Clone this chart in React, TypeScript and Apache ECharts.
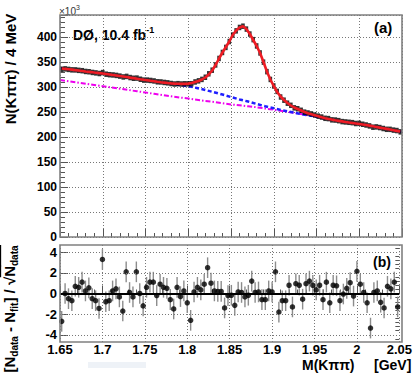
import React, { useEffect, useRef } from "react";
import * as echarts from "echarts";

const FONT = '"Liberation Sans", Arial, Helvetica, "DejaVu Sans", sans-serif';

// ---- binning (4 MeV bins from 1.65 to 2.05 GeV) ----
const massLow = 1.65;
const binWidth = 0.004;
const nBins = 100;
const binCenters = Array.from({ length: nBins }, (_, i) => +(massLow + binWidth * (i + 0.5)).toFixed(4));

// background curves sampled every 10 MeV
const curveMass = Array.from({ length: 41 }, (_, i) => +(1.65 + 0.01 * i).toFixed(3));

// total fit (x10^3 per 4 MeV), at bin centers
const fitValues = [
  337, 336.3, 335.5, 334.7, 333.8, 333, 332, 331, 330.2, 329.4,
  328.6, 327.8, 327, 326, 325, 324, 323, 322, 321, 320,
  318.8, 317.7, 316.6, 315.5, 314.5, 313.5, 312.5, 311.5, 310.5, 309.6,
  308.8, 308, 307.3, 306.8, 306.4, 306.2, 306.3, 306.8, 308, 310,
  312, 315, 319, 325, 333, 344, 357, 369, 380, 391,
  404, 413, 419, 421.5, 416, 406, 394, 382, 368, 350,
  331, 315, 302, 290, 281, 274, 268, 263, 259, 256,
  253, 250, 247.5, 245.5, 243.5, 241.5, 239.5, 237.7, 236.2, 234.8,
  233.5, 232.3, 231.2, 230.1, 229.1, 228.1, 227.1, 226.1, 225, 223.9,
  222.7, 221.4, 220.1, 218.8, 217.5, 216.2, 214.9, 213.6, 212.3, 211,
];

// data (x10^3 per 4 MeV)
const dataValues = [
  335.5, 336.3, 335.2, 334.3, 334.2, 333.3, 332.6, 331.1, 330.5, 329.1,
  328.2, 327.0, 328.8, 325.6, 324.6, 324.1, 323.2, 321.8, 320.1, 321.2,
  318.9, 317.5, 317.8, 315.5, 313.8, 313.8, 313.1, 312.1, 310.4, 310.1,
  309.1, 308.3, 307.0, 306.0, 306.7, 306.0, 306.4, 306.3, 306.6, 310.1,
  312.3, 315.2, 319.5, 326.4, 333.6, 344.1, 357.1, 369.1, 379.2, 390.9,
  403.9, 412.3, 419.1, 421.6, 415.8, 405.9, 394.7, 382.1, 368.1, 349.7,
  330.7, 315.1, 302.1, 291.2, 280.0, 273.6, 267.6, 263.4, 258.3, 256.5,
  253.4, 249.7, 248.0, 246.2, 243.9, 241.7, 239.9, 237.4, 236.8, 234.3,
  233.9, 232.7, 230.8, 230.1, 229.4, 228.7, 227.0, 227.3, 225.5, 224.0,
  222.2, 219.6, 220.2, 218.9, 217.0, 215.4, 215.3, 213.8, 212.9, 210.3,
];

// total background (blue dashed)
const bkgTotal = [
  337.5, 335.5, 333.5, 331, 329, 327, 324.5, 322, 319.5, 317, 314.5,
  311.5, 309, 306.5, 304, 301.5, 298, 294, 289.5, 285, 280,
  275, 271, 266, 261.5, 257.5, 253.5, 250, 246.5, 243.5, 240.5,
  237, 234.3, 231.1, 228.5, 226, 223.3, 220, 216.8, 213.5, 210.5,
];

// combinatorial background (magenta dash-dot)
const bkgComb = [
  314, 311.5, 309, 306.5, 304, 301.5, 299, 296.5, 294, 291.5, 289,
  286.5, 284, 281.5, 279, 277, 274.5, 272, 270, 267.5, 265,
  263.5, 261.5, 259.5, 257, 254.5, 252, 249.5, 246.5, 243.5, 240.5,
  237, 234.3, 231.1, 228.5, 226, 223.3, 220, 216.8, 213.5, 210.5,
];

// pulls (N_data - N_fit)/sqrt(N_data)
const residuals = [
  -2.7, 0.0, -0.5, -0.7, 0.7, 0.6, 1.1, 0.25, 0.55, -0.5,
  -0.7, -1.45, 3.3, -0.8, -0.7, 0.25, 0.45, -0.33, -1.7, 2.1,
  0.1, -0.33, 2.1, 0.0, -1.2, 0.6, 1.1, 1.1, -0.2, 0.9,
  0.6, 0.5, -0.6, -1.5, 0.6, -0.3, 0.25, -0.9, -2.6, 0.15,
  0.6, 0.35, 0.9, 2.5, 1.0, 0.25, 0.2, 0.2, -1.4, -0.2,
  -0.17, -1.15, 0.15, 0.1, -0.33, -0.17, 1.2, 0.1, 0.15, -0.6,
  -0.6, 0.25, 0.15, 2.1, -1.8, -0.7, -0.7, 0.8, -1.3, 0.95,
  0.8, -0.55, 0.95, 1.2, 0.8, 0.35, 0.8, -0.6, 1.1, -0.9,
  0.8, 0.75, -0.7, -0.05, 0.5, 1.05, -0.25, 2.15, 0.9, 0.1,
  -0.9, -3.35, 0.1, 0.25, -0.85, -1.4, 0.7, 0.45, 1.1, -1.3,
];
const residualError = 1;

const resTicks = [-4, -2, 0, 2, 4];
const resMinorTicks = [-4.4, -3.6, -3.2, -2.8, -2.4, -1.6, -1.2, -0.8, -0.4, 0.4, 0.8, 1.2, 1.6, 2.4, 2.8, 3.2, 3.6, 4.4];
const resGrid = [-4, -2, 2, 4];

// ---- text helpers ----
let _ctx: CanvasRenderingContext2D | null = null;
function measure(t: string, size: number, weight: string) {
  if (!_ctx) _ctx = document.createElement("canvas").getContext("2d");
  _ctx!.font = `${weight} ${size}px ${FONT}`;
  return _ctx!.measureText(t).width;
}
type Frag = { t: string; s: number; dy?: number; w?: string; over?: boolean };
function textLine(frags: Frag[], x: number, y: number, opts: { rotation?: number; anchor?: "left" | "center"; color?: string } = {}) {
  const widths = frags.map((f) => measure(f.t, f.s, f.w || "bold"));
  const total = widths.reduce((a, b) => a + b, 0);
  let cx = opts.anchor === "left" ? 0 : -total / 2;
  const children: any[] = [];
  frags.forEach((f, i) => {
    children.push({
      type: "text",
      x: cx,
      y: f.dy || 0,
      style: {
        text: f.t,
        font: `${f.w || "bold"} ${f.s}px ${FONT}`,
        fill: opts.color || "#000",
        align: "left",
        verticalAlign: "middle",
      },
    });
    if (f.over) {
      children.push({
        type: "line",
        shape: { x1: cx - 0.5, y1: -8.5, x2: cx + widths[i] + 0.5, y2: -8.5 },
        style: { stroke: "#000", lineWidth: 1.3 },
      });
    }
    cx += widths[i];
  });
  return { type: "group", x, y, rotation: opts.rotation || 0, children, z: 100 };
}

const tickColor = "#555";
const gridLineStyle = { color: "#777", type: [1, 2] as any, width: 1 };
const xFmt = (v: number) => String(Number(v.toFixed(2)));

export default function App() {
  const ref = useRef<HTMLDivElement>(null);
  useEffect(() => {
    if (!ref.current) return;
    const chart = echarts.init(ref.current, undefined, { renderer: "svg" });

    const dataPts = binCenters.map((m, i) => [m, dataValues[i]]);
    const fitPts = binCenters.map((m, i) => [m, fitValues[i]]);
    const bkgPts = curveMass.map((m, i) => [m, bkgTotal[i]]);
    const combPts = curveMass.map((m, i) => [m, bkgComb[i]]);
    const resPts = binCenters.map((m, i) => [m, residuals[i]]);

    const xAxisBase = {
      type: "value",
      min: 1.65,
      max: 2.05,
      interval: 0.05,
      axisLine: { show: false },
      axisTick: { show: true, inside: true, length: 8, lineStyle: { color: tickColor, width: 1 } },
      minorTick: { show: true, splitNumber: 5, length: 4, lineStyle: { color: tickColor, width: 1 } },
      splitLine: { show: true, lineStyle: gridLineStyle },
    };

    const option: any = {
      animation: false,
      grid: [
        { left: 60, top: 15, width: 342, height: 222 },
        { left: 60, top: 245, width: 342, height: 97 },
      ],
      xAxis: [
        { ...xAxisBase, gridIndex: 0, axisLabel: { show: false } },
        {
          ...xAxisBase,
          gridIndex: 1,
          axisLabel: { show: true, formatter: xFmt, fontSize: 13, lineHeight: 13, fontWeight: "bold", color: "#000", fontFamily: FONT, margin: 1 },
        },
      ],
      yAxis: [
        {
          gridIndex: 0,
          type: "value",
          min: 0,
          max: 444,
          interval: 50,
          axisLine: { show: false },
          axisTick: { show: true, inside: true, length: 8, lineStyle: { color: tickColor } },
          minorTick: { show: true, splitNumber: 5, length: 5, lineStyle: { color: tickColor } },
          axisLabel: { fontSize: 12, fontWeight: "bold", color: "#000", fontFamily: FONT, margin: 3, showMaxLabel: false },
          splitLine: { show: true, lineStyle: gridLineStyle },
        },
        {
          gridIndex: 1,
          type: "value",
          min: -4.7,
          max: 4.7,
          axisLine: { show: false },
          axisTick: { show: true, inside: true, length: 8, customValues: resTicks, lineStyle: { color: tickColor } },
          axisLabel: { customValues: resTicks, fontSize: 13, fontWeight: "bold", color: "#000", fontFamily: FONT, margin: 3 },
          splitLine: { show: false },
        },
        {
          gridIndex: 1,
          type: "value",
          min: -4.7,
          max: 4.7,
          axisLine: { show: false },
          axisTick: { show: true, inside: true, length: 4, customValues: resMinorTicks, lineStyle: { color: tickColor } },
          axisLabel: { show: false },
          splitLine: { show: false },
        },
      ],
      series: [
        {
          type: "line",
          xAxisIndex: 0,
          yAxisIndex: 0,
          data: combPts,
          symbol: "none",
          lineStyle: { color: "#ee00ee", width: 2, type: [5, 2, 1.5, 2] },
          z: 2,
        },
        {
          type: "line",
          xAxisIndex: 0,
          yAxisIndex: 0,
          data: bkgPts,
          symbol: "none",
          lineStyle: { color: "#1f1fff", width: 2.5, type: [4, 2.5] },
          z: 3,
        },
        {
          type: "scatter",
          xAxisIndex: 0,
          yAxisIndex: 0,
          data: dataPts,
          symbol: "rect",
          symbolSize: [3.6, 5.5],
          itemStyle: { color: "#000" },
          z: 4,
        },
        {
          type: "line",
          xAxisIndex: 0,
          yAxisIndex: 0,
          data: fitPts,
          symbol: "none",
          lineStyle: { color: "#ee1c24", width: 2.6 },
          z: 5,
        },
        {
          type: "custom",
          xAxisIndex: 1,
          yAxisIndex: 1,
          data: resPts,
          renderItem: (params: any, api: any) => {
            const x = api.value(0);
            const y = api.value(1);
            const p1 = api.coord([x, y - residualError]);
            const p2 = api.coord([x, y + residualError]);
            return {
              type: "line",
              shape: { x1: p1[0], y1: p1[1], x2: p2[0], y2: p2[1] },
              style: { stroke: "#8c8c8c", lineWidth: 1.4 },
            };
          },
          markLine: {
            silent: true,
            symbol: ["none", "none"],
            label: { show: false },
            data: [
              ...resGrid.map((v) => ({ yAxis: v, lineStyle: { ...gridLineStyle } })),
              { yAxis: 0, lineStyle: { color: "#000", width: 2.2, type: "solid" } },
            ],
          },
          z: 2,
        },
        {
          type: "scatter",
          xAxisIndex: 1,
          yAxisIndex: 1,
          data: resPts,
          symbol: "circle",
          symbolSize: 5.5,
          itemStyle: { color: "#000" },
          z: 4,
        },
      ],
      graphic: [
        { type: "rect", shape: { x: 60, y: 15, width: 342, height: 222 }, style: { fill: "none", stroke: "#808080", lineWidth: 1.6 }, z: 100 },
        { type: "rect", shape: { x: 60, y: 245, width: 342, height: 97 }, style: { fill: "none", stroke: "#808080", lineWidth: 1.6 }, z: 100 },
        { type: "rect", shape: { x: 88, y: 362, width: 58, height: 6 }, style: { fill: "#eef2f7" }, z: 0 },
        textLine([{ t: "×10", s: 10, w: "normal" }, { t: "3", s: 7, dy: -4, w: "normal" }], 59, 11, { anchor: "left", color: "#333" }),
        textLine([{ t: "DØ, 10.4 fb", s: 14 }, { t: "-1", s: 9, dy: -5 }], 73, 35, { anchor: "left" }),
        textLine([{ t: "(a)", s: 15 }], 374, 27, { anchor: "left" }),
        textLine([{ t: "(b)", s: 14 }], 373, 262, { anchor: "left" }),
        textLine([{ t: "N(Kππ) / 4 MeV", s: 15 }], 10.5, 69, { rotation: Math.PI / 2 }),
        textLine(
          [
            { t: "[N", s: 15 },
            { t: "data", s: 10, dy: 5 },
            { t: " - N", s: 15 },
            { t: "fit", s: 10, dy: 5 },
            { t: "] / ", s: 15 },
            { t: "√", s: 15 },
            { t: "N", s: 15, over: true },
            { t: "data", s: 10, dy: 5, over: true },
          ],
          9,
          309,
          { rotation: Math.PI / 2 }
        ),
        textLine([{ t: "M(Kππ)", s: 14 }], 302, 365, { anchor: "left" }),
        textLine([{ t: "[GeV]", s: 14 }], 374, 365, { anchor: "left" }),
      ],
    };

    chart.setOption(option);
    return () => chart.dispose();
  }, []);

  return (
    <div
      ref={ref}
      style={{ position: "fixed", left: 0, top: 0, width: 415, height: 378, background: "#fff" }}
    />
  );
}
